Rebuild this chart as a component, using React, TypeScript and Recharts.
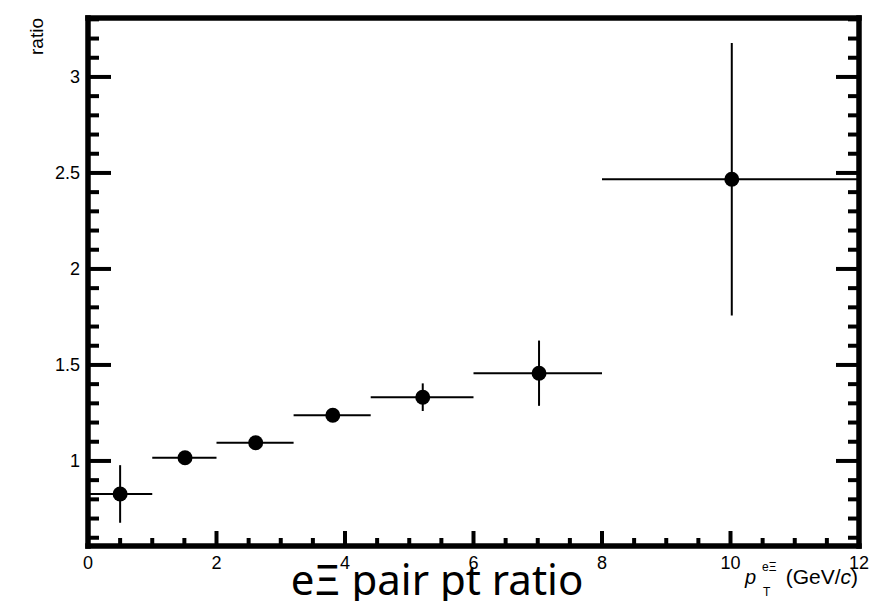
import {
  ErrorBar,
  Scatter,
  ScatterChart,
  XAxis,
  YAxis,
} from "recharts";

// bins in pT (GeV/c)
const binLow = [0, 1, 2, 3.2, 4.4, 6, 8];
const binHigh = [1, 2, 3.2, 4.4, 6, 8, 12];
const ptCenter = [0.5, 1.51, 2.61, 3.81, 5.21, 7.02, 10.02];
const ratio = [0.828, 1.017, 1.095, 1.238, 1.332, 1.457, 2.467];
const ratioErr = [0.15, 0.02, 0.02, 0.02, 0.072, 0.17, 0.71];

const xTicks = [
  0, 0.5, 1, 1.5, 2, 2.5, 3, 3.5, 4, 4.5, 5, 5.5, 6, 6.5, 7, 7.5, 8, 8.5, 9,
  9.5, 10, 10.5, 11, 11.5, 12,
];
const yTicks = [
  0.6, 0.7, 0.8, 0.9, 1, 1.1, 1.2, 1.3, 1.4, 1.5, 1.6, 1.7, 1.8, 1.9, 2, 2.1,
  2.2, 2.3, 2.4, 2.5, 2.6, 2.7, 2.8, 2.9, 3, 3.1, 3.2, 3.3,
];

const data = ptCenter.map((x, i) => ({
  x,
  y: ratio[i],
  xErr: [x - binLow[i], binHigh[i] - x],
  yErr: ratioErr[i],
}));

const FONT = "'Liberation Sans', Arial, Helvetica, sans-serif";
const TICK_W = 4;
const isMajorX = (v: number) => Math.abs(v / 2 - Math.round(v / 2)) < 1e-6;
const isMajorY = (v: number) => Math.abs(v * 2 - Math.round(v * 2)) < 1e-6;

const BottomTick = ({ x, y, payload }: any) => {
  const major = isMajorX(payload.value);
  return (
    <g>
      <line x1={x} x2={x} y1={y} y2={y - (major ? 15 : 8)} stroke="#000" strokeWidth={TICK_W} />
      {major && (
        <text x={x} y={y + 23} textAnchor="middle" fontSize={18} fontFamily={FONT} fill="#000">
          {payload.value}
        </text>
      )}
    </g>
  );
};

const TopTick = ({ x, y, payload }: any) => {
  const major = isMajorX(payload.value);
  return <line x1={x} x2={x} y1={y} y2={y + (major ? 15 : 8)} stroke="#000" strokeWidth={TICK_W} />;
};

const LeftTick = ({ x, y, payload }: any) => {
  const major = isMajorY(payload.value);
  return (
    <g>
      <line x1={x} x2={x + (major ? 23 : 11)} y1={y} y2={y} stroke="#000" strokeWidth={TICK_W} />
      {major && (
        <text x={x - 8} y={y + 6.5} textAnchor="end" fontSize={18} fontFamily={FONT} fill="#000">
          {payload.value}
        </text>
      )}
    </g>
  );
};

const RightTick = ({ x, y, payload }: any) => {
  const major = isMajorY(payload.value);
  return <line x1={x} x2={x - (major ? 23 : 11)} y1={y} y2={y} stroke="#000" strokeWidth={TICK_W} />;
};

const frame = { stroke: "#000", strokeWidth: 5.5, strokeLinecap: "square" as const };

const XTitle = ({ viewBox }: any) => {
  const r = viewBox.x + viewBox.width;
  return (
    <g fontFamily={FONT}>
      <text x={r - 1} y={584} textAnchor="end" fontSize={21} fill="#000">
        (GeV/<tspan fontStyle="italic" fill="#000">c</tspan>)
      </text>
      <text x={r - 114} y={584} fontSize={20} fontStyle="italic" fill="#000">p</text>
      <text x={r - 97} y={571} fontSize={12} fill="#000">eΞ</text>
      <text x={r - 96} y={596} fontSize={12} fill="#000">T</text>
    </g>
  );
};

const YTitle = ({ viewBox }: any) => {
  const tx = viewBox.x + 15;
  const ty = viewBox.y;
  return (
    <text
      x={tx}
      y={ty}
      transform={`rotate(-90, ${tx}, ${ty})`}
      textAnchor="end"
      fontSize={19}
      fontFamily={FONT}
      fill="#000"
    >
      ratio
    </text>
  );
};

const App = () => {
  return (
    <div style={{ position: "absolute", left: 0, top: 0, width: 870, height: 601, background: "#fff" }}>
      <ScatterChart
        width={870}
        height={601}
        margin={{ top: 17, right: 10, left: 28, bottom: 10 }}
      >
        <XAxis
          xAxisId="bottom"
          dataKey="x"
          type="number"
          domain={[0, 12]}
          allowDataOverflow
          ticks={xTicks}
          interval={0}
          height={45}
          tickSize={0}
          tickMargin={0}
          tickLine={false}
          axisLine={frame}
          tick={<BottomTick />}
          label={{ content: <XTitle /> }}
        />
        <XAxis
          xAxisId="top"
          orientation="top"
          type="number"
          domain={[0, 12]}
          allowDataOverflow
          ticks={xTicks}
          interval={0}
          height={1}
          tickSize={0}
          tickMargin={0}
          tickLine={false}
          axisLine={frame}
          tick={<TopTick />}
        />
        <YAxis
          yAxisId="left"
          dataKey="y"
          type="number"
          domain={[0.557, 3.307]}
          allowDataOverflow
          ticks={yTicks}
          interval={0}
          width={60}
          tickSize={0}
          tickMargin={0}
          tickLine={false}
          axisLine={frame}
          tick={<LeftTick />}
          label={{ content: <YTitle /> }}
        />
        <YAxis
          yAxisId="right"
          orientation="right"
          type="number"
          domain={[0.557, 3.307]}
          allowDataOverflow
          ticks={yTicks}
          interval={0}
          width={1}
          tickSize={0}
          tickMargin={0}
          tickLine={false}
          axisLine={frame}
          tick={<RightTick />}
        />
        <Scatter
          xAxisId="bottom"
          yAxisId="left"
          data={data}
          isAnimationActive={false}
          shape={(p: any) => <circle cx={p.cx} cy={p.cy} r={7.5} fill="#000" />}
        >
          <ErrorBar dataKey="xErr" direction="x" width={0} stroke="#000" strokeWidth={2} />
          <ErrorBar dataKey="yErr" direction="y" width={0} stroke="#000" strokeWidth={2} />
        </Scatter>
      </ScatterChart>
      <svg
        width={870}
        height={601}
        style={{ position: "absolute", left: 0, top: 0, pointerEvents: "none" }}
      >
        <text
          x={437}
          y={595}
          textAnchor="middle"
          fontSize={42}
          fontFamily="'Noto Sans', sans-serif"
          fill="#000"
        >
          eΞ pair pt ratio
        </text>
      </svg>
    </div>
  );
};

export default App;
